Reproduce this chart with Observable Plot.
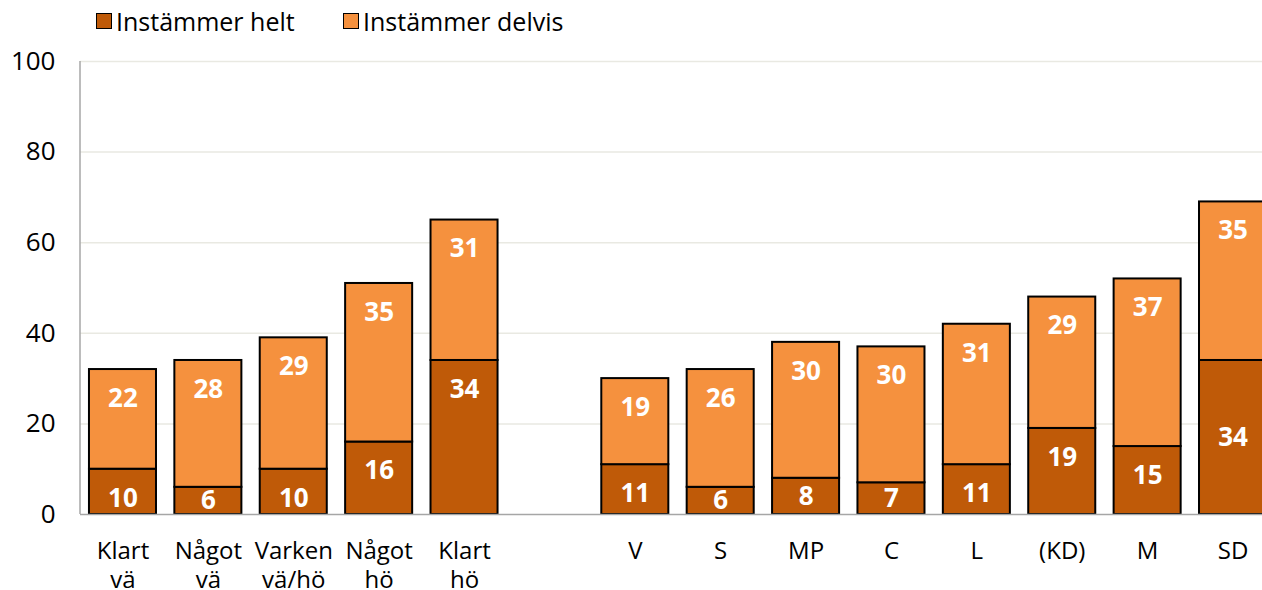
<!DOCTYPE html>
<html>
<head>
<meta charset="utf-8">
<script src="https://cdn.jsdelivr.net/npm/d3@7"></script>
<script src="https://cdn.jsdelivr.net/npm/@observablehq/plot@0.6"></script>
<style>
  html, body { margin: 0; padding: 0; background: white; overflow: hidden; }
  body { font-family: "Open Sans", sans-serif; width: 1262px; height: 590px; position: relative; }
  #legend { position: absolute; left: 0; top: 0; height: 45px; width: 1262px; }
  .item { position: absolute; top: 3px; display: flex; align-items: center; height: 36px; font-size: 25px; color: #000; }
  .sw { width: 14px; height: 14px; border: 1.5px solid #000; margin-right: 4px; }
  #chart { position: absolute; left: 0; top: 45px; }
  #chart svg { overflow: hidden; }
</style>
</head>
<body>
<div id="legend"></div>
<div id="chart"></div>
<script>
const categories = ["Klart vä", "Något vä", "Varken vä/hö", "Något hö", "Klart hö", "", "V", "S", "MP", "C", "L", "(KD)", "M", "SD"];
const tickLabels = ["Klart\nvä", "Något\nvä", "Varken\nvä/hö", "Något\nhö", "Klart\nhö", "", "V", "S", "MP", "C", "L", "(KD)", "M", "SD"];
const series = ["Instämmer helt", "Instämmer delvis"];
const helt   = [10, 6, 10, 16, 34, null, 11, 6, 8, 7, 11, 19, 15, 34];
const delvis = [22, 28, 29, 35, 31, null, 19, 26, 30, 30, 31, 29, 37, 35];
const yTicks = [0, 20, 40, 60, 80, 100];
const colors = ["#BF5A08", "#F5913E"];

// legend
const legendX = [96, 343];
const legend = document.getElementById("legend");
series.forEach((s, i) => {
  const it = document.createElement("div");
  it.className = "item";
  it.style.left = legendX[i] + "px";
  const sw = document.createElement("div");
  sw.className = "sw";
  sw.style.background = colors[i];
  it.appendChild(sw);
  it.appendChild(document.createTextNode(s));
  legend.appendChild(it);
});

// long-format rows
const rows = [];
const labels = [];
categories.forEach((c, i) => {
  if (helt[i] == null) return;
  rows.push({cat: c, series: series[0], value: helt[i]});
  rows.push({cat: c, series: series[1], value: delvis[i]});
  labels.push({cat: c, value: helt[i], top: helt[i], mid: helt[i] / 2});
  labels.push({cat: c, value: delvis[i], top: helt[i] + delvis[i], mid: helt[i] + delvis[i] / 2});
});
const centerCats = ["SD"]; // dark label of this bar sits centred
const isCentered = d => d.value < 9 || (centerCats.includes(d.cat) && d.top === d.value);

const yAxisLine = (index, scales, values, dims) => {
  const g = document.createElementNS("http://www.w3.org/2000/svg", "line");
  g.setAttribute("x1", dims.marginLeft);
  g.setAttribute("x2", dims.marginLeft);
  g.setAttribute("y1", scales.y(100));
  g.setAttribute("y2", scales.y(0));
  g.setAttribute("stroke", "#a6a6a6");
  g.setAttribute("stroke-width", 1.5);
  return g;
};

const plot = Plot.plot({
  width: 1262,
  height: 545,
  marginTop: 16,
  marginBottom: 76,
  marginLeft: 80,
  marginRight: 0,
  style: {fontFamily: "'Open Sans', sans-serif", background: "white", color: "black"},
  x: {type: "band", domain: categories, range: [80, 1275], round: false, paddingInner: 0.215, paddingOuter: 0.105, label: null},
  y: {domain: [0, 100], label: null},
  color: {domain: series, range: colors},
  marks: [
    Plot.gridY(yTicks.filter(d => d > 0), {stroke: "#e9e9e2", strokeOpacity: 1, strokeWidth: 1.5}),
    Plot.barY(rows, {x: "cat", y: "value", fill: "series", stroke: "black", strokeWidth: 2}),
    Plot.ruleY([0], {stroke: "#a6a6a6", strokeWidth: 1.5}),
    yAxisLine,
    Plot.text(labels.filter(d => !isCentered(d)), {x: "cat", y: "top", dy: 29, text: d => String(d.value), fill: "white", fontWeight: "bold", fontSize: 26}),
    Plot.text(labels.filter(d => isCentered(d)), {x: "cat", y: "mid", text: d => String(d.value), fill: "white", fontWeight: "bold", fontSize: 26}),
    Plot.axisY(yTicks, {tickSize: 0, tickPadding: 25, fontSize: 26, label: null}),
    Plot.axisX({tickSize: 0, tickPadding: 24, fontSize: 24, lineHeight: 1.2, label: null,
      tickFormat: d => tickLabels[categories.indexOf(d)]})
  ]
});
document.getElementById("chart").appendChild(plot);
</script>
</body>
</html>
